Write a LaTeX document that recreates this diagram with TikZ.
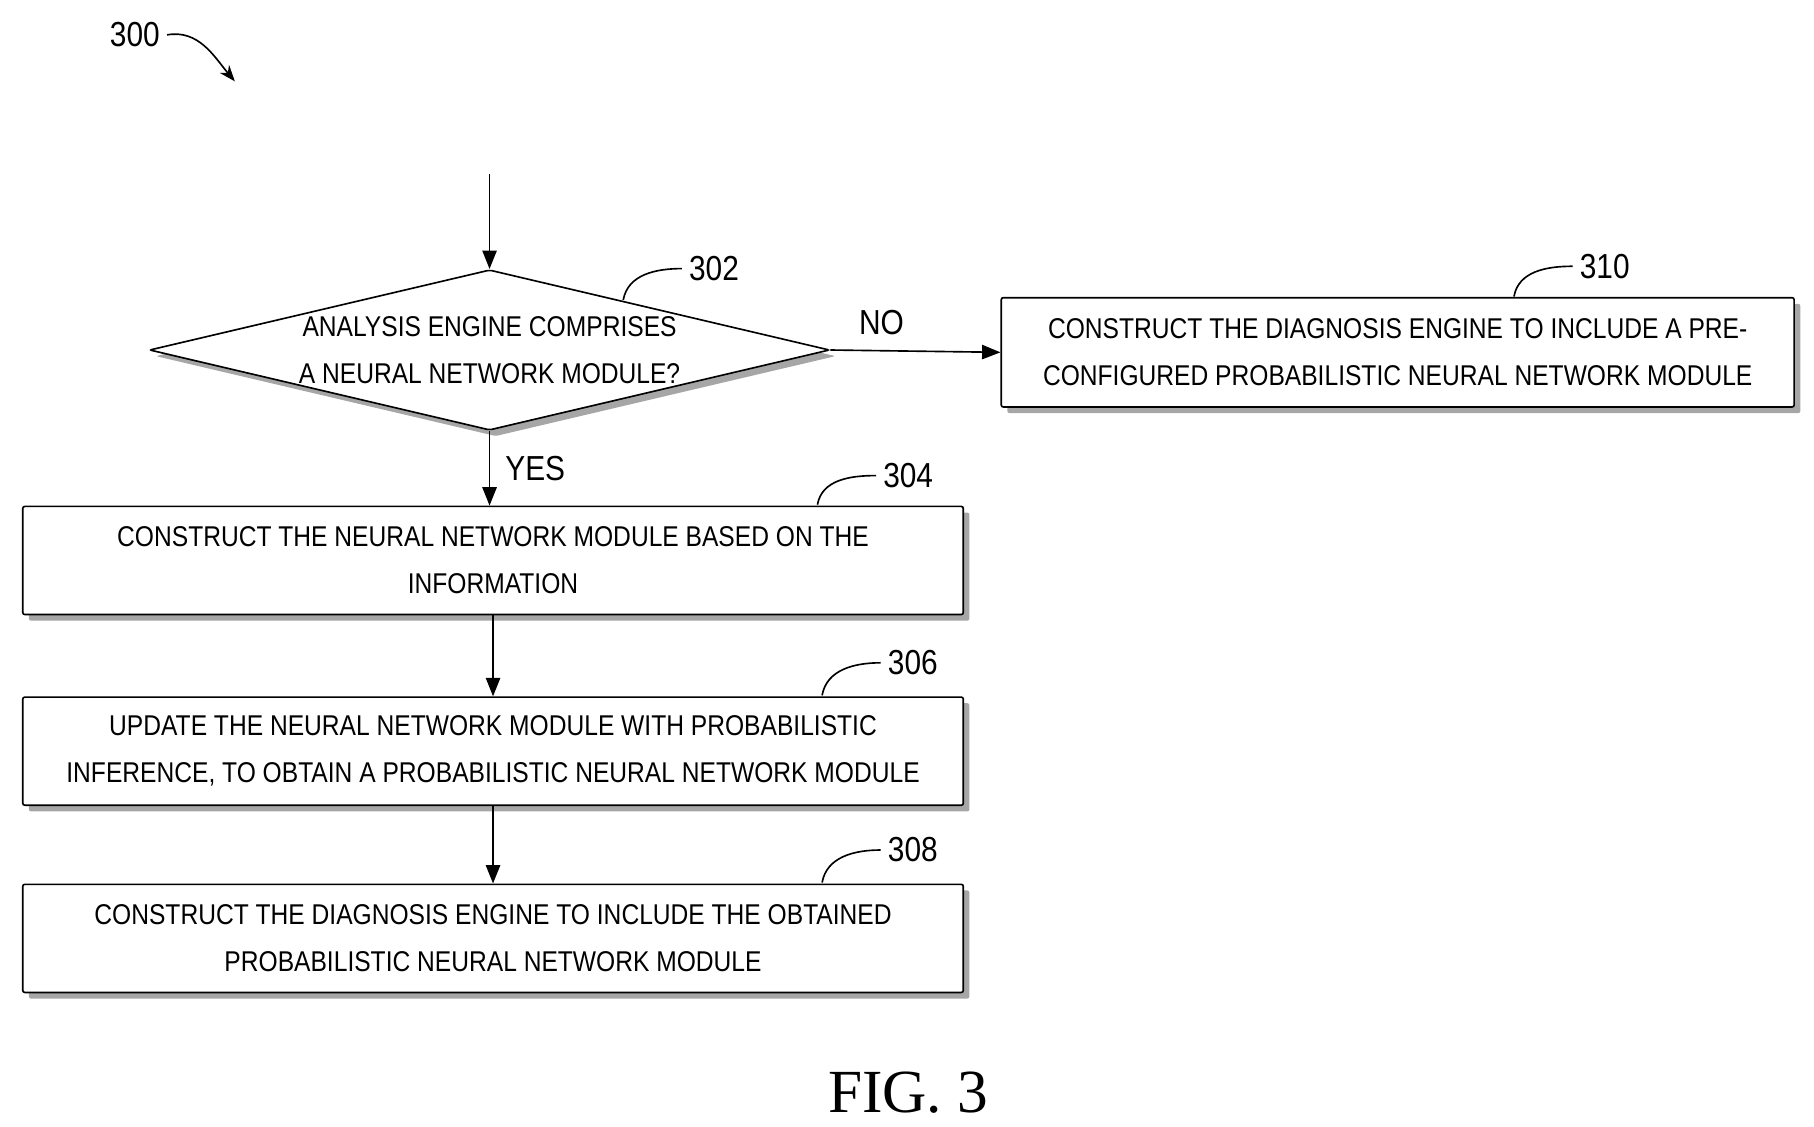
\documentclass[tikz,border=0pt]{standalone}
\usepackage{fontspec}
\setmainfont{Liberation Sans}[FakeStretch=0.86]
\newfontfamily\figfont{Liberation Serif}
\usetikzlibrary{shapes.geometric,shadows,arrows.meta}
\tikzset{
  stepbox/.style={draw=black, thick, fill=white, rounded corners=1pt, align=center,
    font=\fontsize{14}{23}\selectfont,
    drop shadow={fill=gray!70, shadow xshift=3pt, shadow yshift=-3pt, opacity=1}},
  ref/.style={font=\fontsize{17}{17}\selectfont},
  flow/.style={-{Triangle[length=9pt,width=7pt]}, thick},
}
\begin{document}
\begin{tikzpicture}[x=0.02cm,y=-0.02cm]
  \useasboundingbox (0,0) rectangle (1560,969);

  % Boxes
  \node[stepbox, diamond, aspect=4.24, minimum width=11.7cm, minimum height=2.76cm, inner sep=0pt]
    (decide) at (421,301) {ANALYSIS ENGINE COMPRISES\\A NEURAL NETWORK MODULE?};
  \node[stepbox, minimum width=13.64cm, minimum height=1.88cm] (preconf) at (1202,303)
    {CONSTRUCT THE DIAGNOSIS ENGINE TO INCLUDE A PRE-\\CONFIGURED PROBABILISTIC NEURAL NETWORK MODULE};
  \node[stepbox, minimum width=16.18cm, minimum height=1.86cm] (build) at (424,482)
    {CONSTRUCT THE NEURAL NETWORK MODULE BASED ON THE\\INFORMATION};
  \node[stepbox, minimum width=16.18cm, minimum height=1.86cm] (update) at (424,646)
    {UPDATE THE NEURAL NETWORK MODULE WITH PROBABILISTIC\\INFERENCE, TO OBTAIN A PROBABILISTIC NEURAL NETWORK MODULE};
  \node[stepbox, minimum width=16.18cm, minimum height=1.86cm] (diag) at (424,807)
    {CONSTRUCT THE DIAGNOSIS ENGINE TO INCLUDE THE OBTAINED\\PROBABILISTIC NEURAL NETWORK MODULE};

  % Arcs
  \coordinate (start) at (421,150);
  \draw[flow] (start) -- (decide.north);
  \draw[flow] (decide.east) -- (preconf.west)
    node[pos=0.3, above=4pt, ref]{NO};
  \draw[flow] (decide.south) -- (decide.south |- build.north)
    node[pos=0.5, right=4pt, ref]{YES};
  \draw[flow] (build.south) -- (update.north);
  \draw[flow] (update.south) -- (diag.north);

  % Labels
  \node[ref] (n300) at (116,30) {300};
  \coordinate (tip300) at (202,70);
  \draw[-{Stealth[length=8pt]}, thick] (n300.east) to[out=10, in=130] (tip300);
  \node[ref] (n302) at (614,231) {302};
  \draw[thick] (536,258) to[out=80, in=180] (n302.west);
  \node[ref] (n310) at (1380,229) {310};
  \draw[thick] (1302,255) to[out=80, in=180] (n310.west);
  \node[ref] (n304) at (781,409) {304};
  \draw[thick] (703,434) to[out=80, in=180] (n304.west);
  \node[ref] (n306) at (785,570) {306};
  \draw[thick] (707,598) to[out=80, in=180] (n306.west);
  \node[ref] (n308) at (785,731) {308};
  \draw[thick] (707,759) to[out=80, in=180] (n308.west);

  \node[font=\figfont\fontsize{30}{30}\selectfont] (fig) at (781,940) {FIG. 3};
\end{tikzpicture}
\end{document}
